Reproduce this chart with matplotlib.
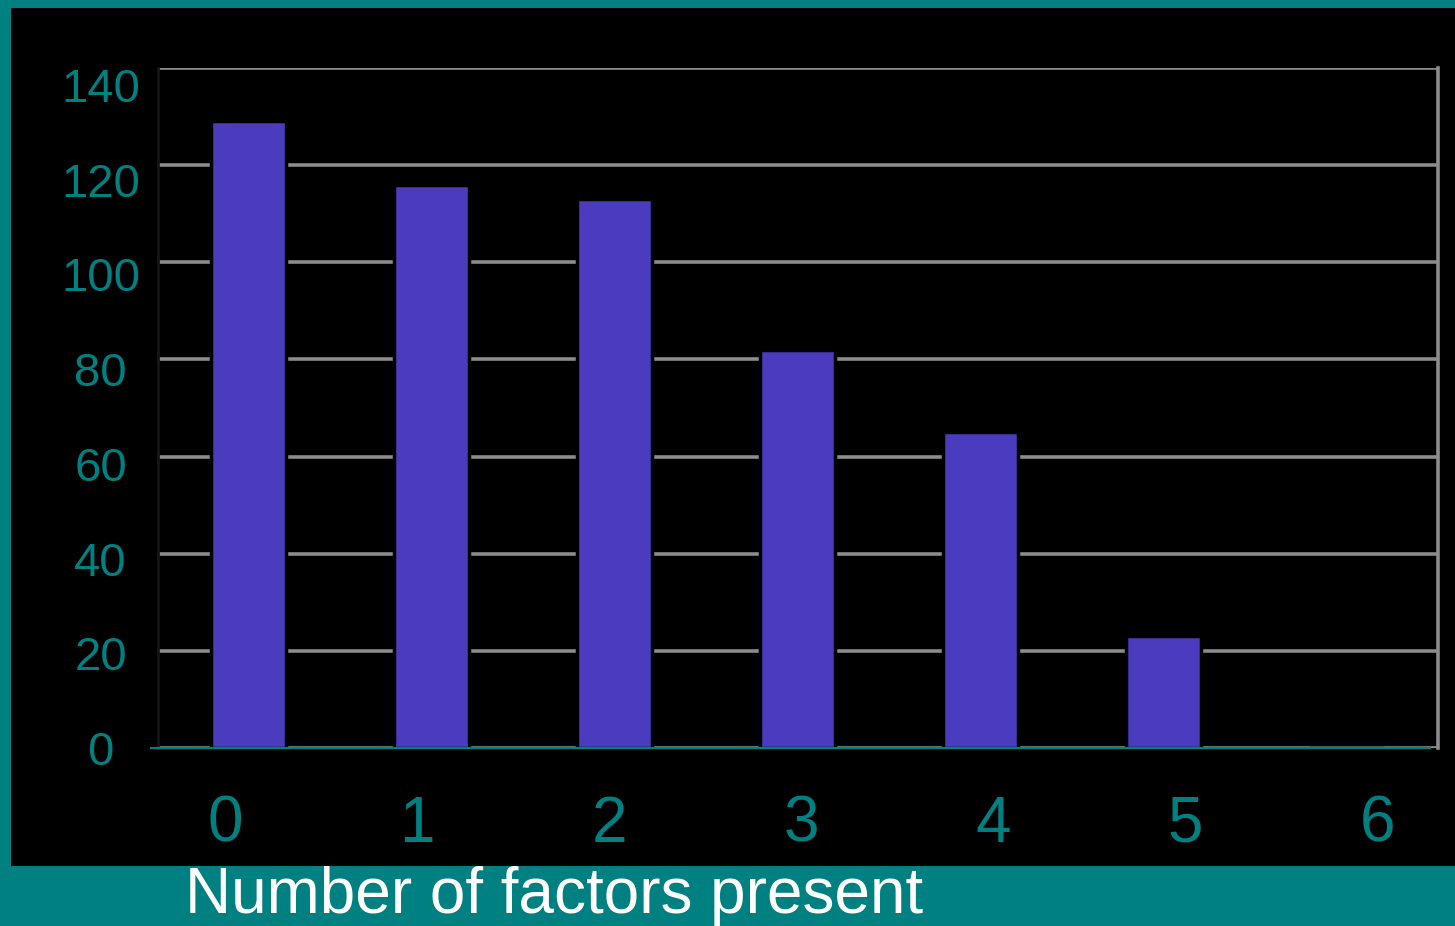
import matplotlib
matplotlib.use("Agg")
import matplotlib.pyplot as plt
from matplotlib.patches import Rectangle

plt.rcParams['font.family'] = ['Liberation Sans', 'DejaVu Sans']

# data
factors = ['0', '1', '2', '3', '4', '5', '6']
counts = [129, 116, 113, 82, 65, 23, 0]
yticks = [0, 20, 40, 60, 80, 100, 120, 140]
xlabel = 'Number of factors present'

teal = '#008080'
bar_color = '#4b3cbf'
grid_color = '#8c8c8c'

fig = plt.figure(figsize=(14.55, 9.26), dpi=100, facecolor=teal)
# black slide panel
fig.patches.append(Rectangle((11/1455, 60/926), 1 - 11/1455, 858/926,
                             transform=fig.transFigure, facecolor='black',
                             edgecolor='none', zorder=-5))

ax = fig.add_axes([157.5/1455, 178/926, 1280.5/1455, 680/926])
ax.set_zorder(2)
ax.set_facecolor('black')
x = list(range(len(factors)))
ax.bar(x, counts, width=0.41, color=bar_color, edgecolor='black', linewidth=2.5, zorder=3)
ax.set_xlim(-0.5, 6.5)
ax.set_ylim(0, 140)

ax.set_yticks(yticks)
ax.set_yticklabels([])
ax.yaxis.grid(True, color=grid_color, lw=2.6)
ax.set_axisbelow(True)
ax.tick_params(axis='both', length=0)
ax.set_xticks([])

ax.spines['top'].set_visible(False)
ax.spines['bottom'].set_visible(False)
ax.spines['left'].set_color('#161616')
ax.spines['left'].set_linewidth(2)
ax.spines['right'].set_color(grid_color)
ax.spines['right'].set_linewidth(2.6)
ax.axhline(0, xmin=-0.005, xmax=0.994, color=teal, lw=1.6, zorder=4, clip_on=False)

# value labels on a slightly compressed left scale
sec = ax.secondary_yaxis('left', functions=(lambda y: y * 1.0255, lambda s: s / 1.0255))
sec.set_yticks(yticks)
sec.set_yticklabels([str(v) for v in yticks])
sec.tick_params(length=0, pad=41, labelsize=34, labelcolor=teal)
sec.spines['left'].set_visible(False)
for lbl in sec.get_yticklabels():
    lbl.set_ha('center')

# category labels under the axis
for i, name in enumerate(factors):
    ax.text(0.0527 + 0.15 * i, -0.113, name, transform=ax.transAxes,
            ha='center', va='center', fontsize=46, color=teal)

fig.text(185/1455, 13/926, xlabel, ha='left', va='baseline', fontsize=46, color='white')

fig.savefig('out.png', dpi=100, facecolor=teal)
